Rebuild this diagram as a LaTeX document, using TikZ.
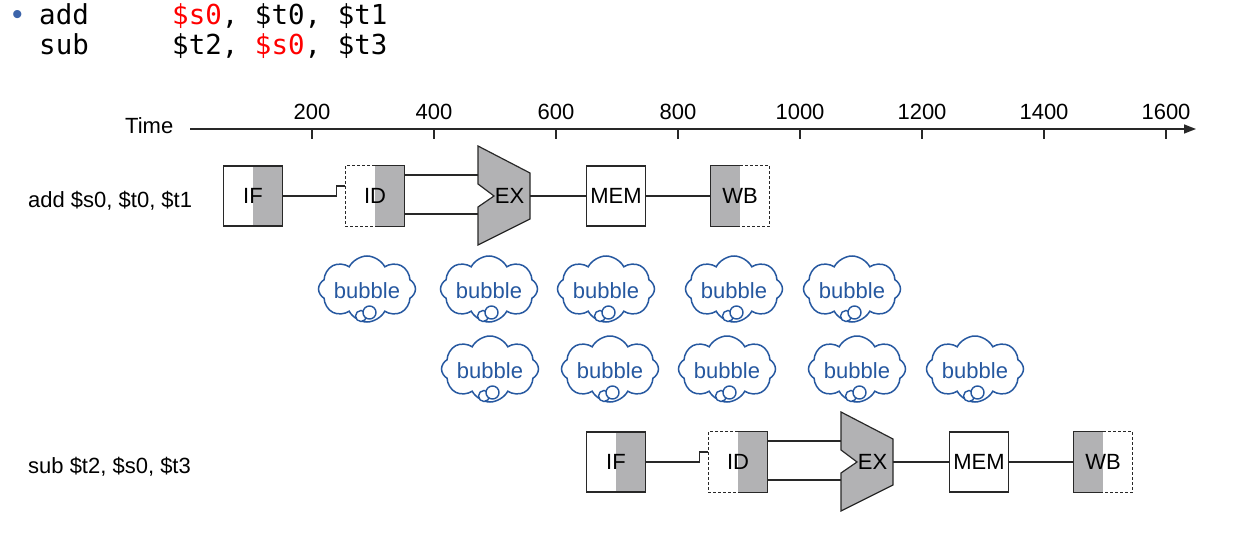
\documentclass[tikz,border=0pt]{standalone}
\usepackage{fontspec}
\setmainfont{Liberation Sans}
\newfontfamily\codefont{DejaVu Sans Mono}
\usetikzlibrary{shapes.symbols, arrows.meta}
\definecolor{stagegray}{RGB}{178,178,180}
\definecolor{bubbleblue}{RGB}{38,88,160}
\definecolor{bulletblue}{RGB}{60,100,170}
\definecolor{linegray}{RGB}{40,40,40}
\newcommand\diasize{\fontsize{22}{26}\selectfont}
\newcommand\codesize{\fontsize{27.5}{31}\selectfont}

\tikzset{
  lbl/.style={inner sep=0pt, anchor=base west},
  wire/.style={draw=linegray, line width=1.2pt},
  stagebox/.style={minimum width=59pt, minimum height=60pt, inner sep=0pt, font=\diasize},
  grayright/.style={path picture={\fill[stagegray] (path picture bounding box.north) rectangle (path picture bounding box.south east);}},
  grayleft/.style={path picture={\fill[stagegray] (path picture bounding box.north west) rectangle (path picture bounding box.south);}},
  halfdash/.style={wire, line width=1pt, dash pattern=on 3pt off 2pt},
  alu/.style={wire, fill=stagegray},
  bubblecloud/.style={cloud, cloud puffs=8, cloud puff arc=125, aspect=1.45,
    draw=bubbleblue, line width=1.5pt, fill=white, minimum width=97pt, minimum height=66pt,
    inner sep=0pt},
  bubbletext/.style={inner sep=0pt, text=bubbleblue, font=\fontsize{22}{25}\selectfont},
  puff/.style={draw=bubbleblue, line width=1.4pt, fill=white},
}

\begin{document}
\begin{tikzpicture}[x=1pt, y=-1pt]
  \useasboundingbox (0,0) rectangle (1251,535);

  % istruzioni
  \node[lbl, text=bulletblue, font=\fontsize{30}{32}\selectfont] (bullet) at (12,25) {\textbullet};
  \node[lbl, font=\codefont\codesize] (op1) at (39,25) {add};
  \node[lbl, font=\codefont\codesize] (args1) at (172,25) {\textcolor{red}{\$s0}, \$t0, \$t1};
  \node[lbl, font=\codefont\codesize] (op2) at (39,55) {sub};
  \node[lbl, font=\codefont\codesize] (args2) at (172,55) {\$t2, \textcolor{red}{\$s0}, \$t3};

  % asse dei tempi
  \node[lbl, font=\diasize] (time) at (125,133) {Time};
  \coordinate (axstart) at (190,129);
  \coordinate (axend) at (1196,129);
  \draw[wire, line width=1.4pt, -{Triangle[length=12pt, width=9pt]}] (axstart) -- (axend);
  \foreach \t in {200,400,...,1600} {
    \draw[wire] (190+0.61*\t,129) -- ++(0,10);
    \node[inner sep=0pt, anchor=base, font=\diasize] (tick\t) at (190+0.61*\t,120) {\t};
  }

  % le due istruzioni in pipeline
  \node[lbl, font=\diasize] (row1) at (28,207) {add \$s0, \$t0, \$t1};
  \node[lbl, font=\diasize] (row2) at (28,473) {sub \$t2, \$s0, \$t3};
  \foreach \r/\dx/\yy in {1/0/196, 2/363/462} {
    \node[stagebox, wire, grayright] (if\r) at (253+\dx,\yy) {IF};
    \node[stagebox, grayright] (id\r) at (375+\dx,\yy) {ID};
    \draw[halfdash] (id\r.north) -| (id\r.west) |- (id\r.south);
    \draw[wire] (id\r.north) -| (id\r.east) |- (id\r.south);
    \begin{scope}[shift={(504+\dx,\yy)}]
      \draw[alu] (-26,-50) -- (26,-23) -- (26,23) -- (-26,49) -- (-26,11) -- (-10,0) -- (-26,-12) -- cycle;
      \coordinate (ex\r-a) at (-26,-21);
      \coordinate (ex\r-b) at (-26,18);
      \coordinate (ex\r-o) at (26,0);
      \node[inner sep=0pt, font=\diasize] (ex\r) at (5.5,0) {EX};
    \end{scope}
    \node[stagebox, wire, fill=white] (mem\r) at (616+\dx,\yy) {MEM};
    \node[stagebox, grayleft] (wb\r) at (740+\dx,\yy) {WB};
    \draw[wire] (wb\r.north) -| (wb\r.west) |- (wb\r.south);
    \draw[halfdash] (wb\r.north) -| (wb\r.east) |- (wb\r.south);

    \draw[wire] (if\r.east) -| ([xshift=-9pt, yshift=10pt]id\r.west) -- ([yshift=10pt]id\r.west);
    \draw[wire] ([yshift=21pt]id\r.east) -- (ex\r-a);
    \draw[wire] ([yshift=-18pt]id\r.east) -- (ex\r-b);
    \draw[wire] (ex\r-o) -- (mem\r.west);
    \draw[wire] (mem\r.east) -- (wb\r.west);
  }

  % bolle
  \foreach \bx/\by [count=\i] in {367/289, 489/289, 606/289, 734/289, 852/289,
                                  490/369, 610/369, 727/369, 857/369, 975/369} {
    \node[bubblecloud] (bub\i) at (\bx,\by) {};
    \node[bubbletext] (bubtxt\i) at (\bx,\by+2) {bubble};
    \draw[puff] (\bx-6,\by+27) circle (5.5);
    \draw[puff] (\bx+2.5,\by+23.5) circle (6.5);
  }
\end{tikzpicture}
\end{document}
